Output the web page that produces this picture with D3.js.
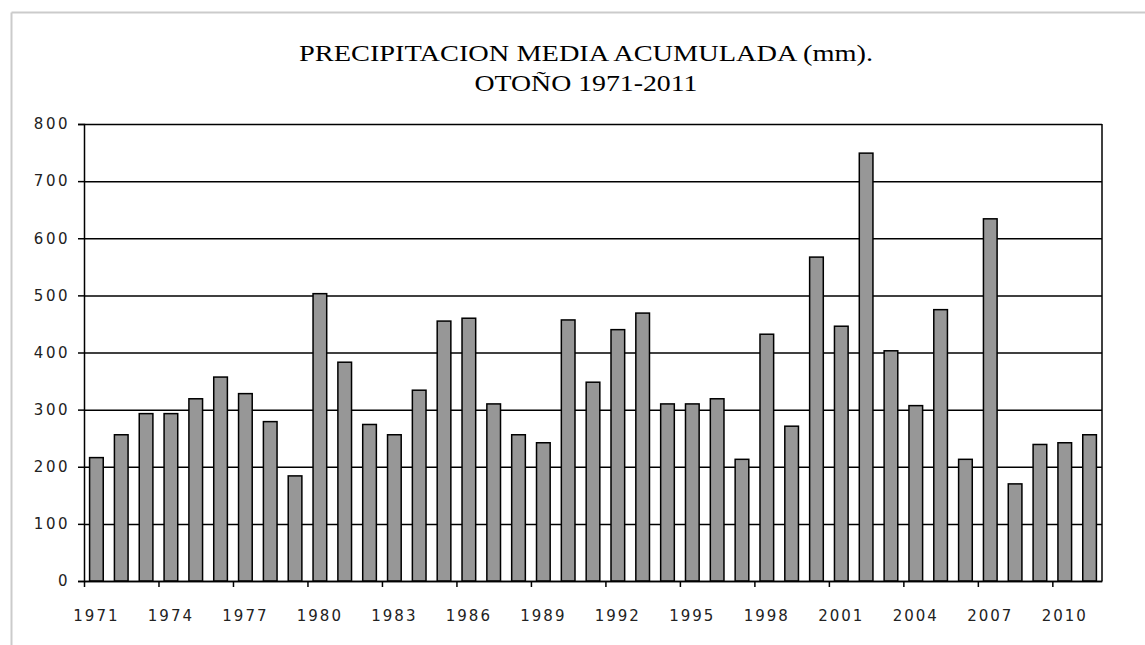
<!DOCTYPE html>
<html>
<head>
<meta charset="utf-8">
<script src="https://cdn.jsdelivr.net/npm/d3@7"></script>
<style>
  body { margin: 0; background: #fff; }
</style>
</head>
<body>
<script>
const w = 1145;
const h = 645;
const marginLeft = 84;
const marginRight = 43;
const marginTop = 124;
const marginBottom = 64;

const titleLines = ["PRECIPITACION MEDIA ACUMULADA (mm).", "OTOÑO 1971-2011"];
const years = d3.range(1971, 2012);
const rain = [216, 256, 293, 293, 319, 357, 328, 279, 184, 503,
              383, 274, 256, 334, 455, 460, 310, 256, 242, 457,
              348, 440, 469, 310, 310, 319, 213, 432, 271, 567,
              446, 749, 403, 307, 475, 213, 634, 170, 239, 242,
              256];
const yTicks = [0, 100, 200, 300, 400, 500, 600, 700, 800];
const labelYears = years.filter((d, i) => i % 3 == 0);

let svg = d3.select("body").append("svg")
    .attr("width", w)
    .attr("height", h);

// light frame round the chart
svg.append("line")
    .attr("x1", 11.5).attr("y1", 12.5).attr("x2", w).attr("y2", 12.5)
    .attr("stroke", "#cbcbcb").attr("stroke-width", 2);
svg.append("line")
    .attr("x1", 11.5).attr("y1", 12.5).attr("x2", 11.5).attr("y2", h)
    .attr("stroke", "#cbcbcb").attr("stroke-width", 2);

let xScale = d3.scaleBand()
    .domain(years)
    .range([marginLeft, w - marginRight])
    .paddingInner(0.45)
    .paddingOuter(0.225);

// category boundaries, for the tick marks
let xIndex = d3.scaleLinear()
    .domain([0, years.length])
    .range([marginLeft, w - marginRight]);

let yScale = d3.scaleLinear()
    .domain([0, 800])
    .range([h - marginBottom, marginTop]);

// gridlines
svg.append("g")
    .attr("transform", "translate(" + marginLeft + ",0)")
    .call(d3.axisLeft(yScale).tickValues(yTicks).tickSize(-(w - marginLeft - marginRight)).tickFormat(""))
    .call(g => g.select(".domain").remove())
    .selectAll("line")
    .attr("stroke", "#000")
    .attr("stroke-width", 1.5);

// right border of plot area
svg.append("line")
    .attr("x1", w - marginRight).attr("x2", w - marginRight)
    .attr("y1", marginTop).attr("y2", h - marginBottom)
    .attr("stroke", "#000").attr("stroke-width", 1.5);

svg.selectAll("rect.bar")
    .data(rain)
    .enter()
    .append("rect")
    .attr("class", "bar")
    .attr("x", (d, i) => xScale(years[i]))
    .attr("width", xScale.bandwidth())
    .attr("y", d => yScale(d))
    .attr("height", d => yScale(0) - yScale(d))
    .attr("fill", "#979797")
    .attr("stroke", "#000")
    .attr("stroke-width", 1.5);

// y axis
svg.append("g")
    .attr("transform", "translate(" + marginLeft + ",0)")
    .call(d3.axisLeft(yScale).tickValues(yTicks).tickSize(6).tickPadding(8))
    .call(g => g.select(".domain").attr("stroke-width", 1.5))
    .call(g => g.selectAll("line").attr("stroke-width", 1.5))
    .selectAll("text")
    .style("font-family", "DejaVu Sans")
    .style("font-size", "15px")
    .style("letter-spacing", "2.5px")
    .attr("fill", "#222");

// x axis tick marks every 3 categories
svg.append("g")
    .attr("transform", "translate(0," + (h - marginBottom) + ")")
    .call(d3.axisBottom(xIndex).tickValues(d3.range(0, years.length, 3)).tickSize(6).tickSizeOuter(0).tickFormat(""))
    .call(g => g.select(".domain").attr("stroke-width", 1.5))
    .selectAll("line")
    .attr("stroke-width", 1.5);

// x axis labels
svg.append("g")
    .attr("transform", "translate(0," + (h - marginBottom) + ")")
    .call(d3.axisBottom(xScale).tickValues(labelYears).tickSize(0).tickPadding(29))
    .call(g => g.select(".domain").remove())
    .selectAll("text")
    .style("font-family", "DejaVu Sans")
    .style("font-size", "15px")
    .style("letter-spacing", "2px")
    .attr("fill", "#222");

// title
svg.selectAll(".title")
    .data(titleLines)
    .enter()
    .append("text")
    .attr("class", "title")
    .attr("x", 586)
    .attr("y", (d, i) => 61 + i * 30)
    .attr("text-anchor", "middle")
    .attr("textLength", (d, i) => i == 0 ? 574 : 223)
    .attr("lengthAdjust", "spacingAndGlyphs")
    .style("font-family", "Liberation Serif")
    .style("font-size", "23px")
    .text(d => d);
</script>
</body>
</html>
